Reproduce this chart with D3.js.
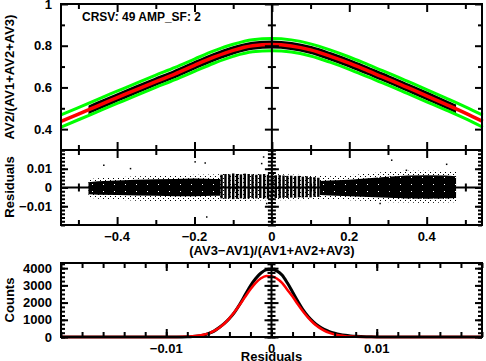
<!DOCTYPE html>
<html>
<head>
<meta charset="utf-8">
<script src="https://cdn.jsdelivr.net/npm/d3@7"></script>
<style>
body { margin: 0; background: #fff; }
text { font-family: "Liberation Sans", Arial, sans-serif; font-weight: bold; font-size: 13px; fill: #000; }
</style>
</head>
<body>
<svg id="chart" width="486" height="361"></svg>
<script>
// model curve and the green limits, top panel
var modelX = [-0.545, -0.5, -0.45, -0.4, -0.35, -0.3, -0.25, -0.2, -0.15, -0.1, -0.05, 0, 0.05, 0.1, 0.15, 0.2, 0.25, 0.3, 0.35, 0.4, 0.45, 0.5, 0.545];
var modelY = [0.437, 0.472, 0.512, 0.551, 0.590, 0.628, 0.665, 0.706, 0.745, 0.778, 0.800, 0.806, 0.799, 0.780, 0.750, 0.716, 0.678, 0.640, 0.600, 0.560, 0.519, 0.477, 0.437];
var upperY = [0.468, 0.503, 0.543, 0.582, 0.621, 0.659, 0.696, 0.736, 0.775, 0.807, 0.829, 0.835, 0.828, 0.809, 0.780, 0.746, 0.708, 0.670, 0.630, 0.590, 0.549, 0.507, 0.467];
var lowerY = [0.410, 0.445, 0.484, 0.523, 0.562, 0.600, 0.637, 0.677, 0.716, 0.749, 0.771, 0.776, 0.770, 0.751, 0.721, 0.687, 0.649, 0.611, 0.571, 0.531, 0.491, 0.450, 0.409];
var dataRange = [-0.474, 0.476];

// residuals: dense core (left and right), sparse halo, stripes in the middle
var coreLX = [-0.474, -0.45, -0.4, -0.35, -0.3, -0.25, -0.2, -0.15, -0.134];
var coreLHi = [0.0028, 0.0034, 0.0038, 0.0042, 0.0044, 0.0046, 0.0048, 0.0046, 0.0046];
var coreLLo = [-0.0036, -0.0038, -0.0040, -0.0042, -0.0044, -0.0046, -0.0046, -0.0044, -0.0044];
var coreRX = [0.124, 0.15, 0.2, 0.25, 0.3, 0.35, 0.4, 0.45, 0.476];
var coreRHi = [0.0035, 0.0038, 0.0042, 0.0050, 0.0058, 0.0064, 0.0066, 0.0064, 0.0060];
var coreRLo = [-0.0040, -0.0042, -0.0046, -0.0050, -0.0055, -0.0058, -0.0060, -0.0058, -0.0056];
var haloX = [-0.474, -0.45, -0.4, -0.35, -0.3, -0.25, -0.2, -0.15, -0.1, -0.05, 0, 0.05, 0.1, 0.15, 0.2, 0.25, 0.3, 0.35, 0.4, 0.45, 0.476];
var haloHi = [0.0045, 0.0050, 0.0055, 0.0060, 0.0062, 0.0065, 0.0068, 0.0070, 0.0075, 0.0075, 0.0072, 0.0070, 0.0065, 0.0060, 0.0065, 0.0075, 0.0085, 0.0090, 0.0090, 0.0088, 0.0085];
var haloLo = [-0.0055, -0.0060, -0.0065, -0.0070, -0.0072, -0.0072, -0.0075, -0.0075, -0.0075, -0.0070, -0.0068, -0.0068, -0.0066, -0.0062, -0.0068, -0.0072, -0.0078, -0.0080, -0.0082, -0.0080, -0.0078];
var stripeX = [-0.13, -0.12, -0.11, -0.10, -0.09, -0.08, -0.07, -0.06, -0.05, -0.04, -0.03, -0.02, -0.01, 0, 0.01, 0.02, 0.03, 0.04, 0.05, 0.06, 0.07, 0.08, 0.09, 0.10, 0.11, 0.12];
var stripeHi = [0.0068, 0.0072, 0.0070, 0.0075, 0.0072, 0.0070, 0.0074, 0.0072, 0.0070, 0.0068, 0.0070, 0.0072, 0.0068, 0.0066, 0.0065, 0.0066, 0.0064, 0.0062, 0.0063, 0.0060, 0.0062, 0.0058, 0.0060, 0.0056, 0.0055, 0.0052];
var stripeLo = [-0.0058, -0.0060, -0.0058, -0.0062, -0.0060, -0.0058, -0.0060, -0.0058, -0.0057, -0.0058, -0.0056, -0.0058, -0.0060, -0.0058, -0.0056, -0.0057, -0.0055, -0.0056, -0.0054, -0.0055, -0.0053, -0.0054, -0.0052, -0.0053, -0.0050, -0.0050];
var outX = [-0.435, -0.366, -0.199, -0.173, -0.169, -0.022, -0.027, -0.014, 0.279, 0.309, 0.347, 0.451];
var outY = [0.0120, 0.0102, 0.0138, 0.0132, -0.0156, 0.0164, 0.0129, -0.0084, -0.0084, 0.0147, 0.0093, 0.0125];

// histogram of residuals (black) and gaussian fit (red)
var histX = [-0.02, -0.0095, -0.009, -0.0085, -0.008, -0.0075, -0.007, -0.0065, -0.006, -0.0055, -0.005, -0.0045, -0.004, -0.0035, -0.003, -0.0025, -0.002, -0.0015, -0.001, -0.0005, 0, 0.0005, 0.001, 0.0015, 0.002, 0.0025, 0.003, 0.0035, 0.004, 0.0045, 0.005, 0.0055, 0.006, 0.0065, 0.007, 0.0075, 0.008, 0.0085, 0.009, 0.0095, 0.01, 0.0105, 0.011, 0.02];
var histN = [0, 0, 3, 6, 14, 30, 60, 110, 200, 330, 540, 780, 1080, 1450, 1920, 2450, 2980, 3400, 3720, 3900, 3920, 3840, 3600, 3150, 2620, 2080, 1580, 1180, 870, 620, 440, 310, 220, 150, 100, 65, 40, 25, 15, 8, 4, 2, 0, 0];
var fitX = [-0.02, -0.009, -0.0085, -0.008, -0.0075, -0.007, -0.0065, -0.006, -0.0055, -0.005, -0.0045, -0.004, -0.0035, -0.003, -0.0025, -0.002, -0.0015, -0.001, -0.0005, 0, 0.0005, 0.001, 0.0015, 0.002, 0.0025, 0.003, 0.0035, 0.004, 0.0045, 0.005, 0.0055, 0.006, 0.0065, 0.007, 0.0075, 0.008, 0.0085, 0.009, 0.02];
var fitN = [0, 5, 10, 21, 40, 72, 126, 212, 340, 522, 770, 1085, 1464, 1891, 2339, 2770, 3141, 3412, 3548, 3532, 3400, 3150, 2750, 2350, 1900, 1480, 1110, 800, 560, 370, 240, 150, 90, 50, 27, 14, 7, 3, 0];

// ticks and labels
var xMajor = [-0.4, -0.2, 0, 0.2, 0.4];
var xMinor = [-0.5, -0.3, -0.1, 0.1, 0.3, 0.5];
var xLabels = ["\u22120.4", "\u22120.2", "0", "0.2", "0.4"];
var topMajor = [0.4, 0.6, 0.8, 1];
var topMinor = [0.3, 0.5, 0.7, 0.9];
var topLabels = ["0.4", "0.6", "0.8", "1"];
var resMajor = [-0.01, 0, 0.01];
var resLabels = ["\u22120.01", "0", "0.01"];
var histXMajor = [-0.01, 0, 0.01];
var histXLabels = ["\u22120.01", "0", "0.01"];
var histYMajor = [0, 1000, 2000, 3000, 4000];
var histYLabels = ["0", "1000", "2000", "3000", "4000"];

var svg = d3.select("#chart");
var L = 61, R = 482;

var x = d3.scaleLinear().domain([-0.545, 0.543]).range([L, R]);
var yTop = d3.scaleLinear().domain([0.3, 1]).range([150, 4]);
var yRes = d3.scaleLinear().domain([-0.02, 0.02]).range([225, 150]);
var xHist = d3.scaleLinear().domain([-0.02, 0.02]).range([L, R]);
var yHist = d3.scaleLinear().domain([0, 4300]).range([337, 263]);

var defs = svg.append("defs");
// sparse dots for the halo of scattered residuals
var pat = defs.append("pattern").attr("id", "speck").attr("width", 5).attr("height", 4).attr("patternUnits", "userSpaceOnUse");
pat.append("rect").attr("x", 0).attr("y", 0).attr("width", 1).attr("height", 1).attr("fill", "#000");
pat.append("rect").attr("x", 3).attr("y", 2).attr("width", 1).attr("height", 1).attr("fill", "#000");
// nearly solid black with a rare white hole for the dense core
var pat2 = defs.append("pattern").attr("id", "dense").attr("width", 11).attr("height", 7).attr("patternUnits", "userSpaceOnUse");
pat2.append("rect").attr("width", 11).attr("height", 7).attr("fill", "#000");
pat2.append("rect").attr("x", 4).attr("y", 2).attr("width", 1).attr("height", 1).attr("fill", "#fff");
defs.append("clipPath").attr("id", "dataclip").append("rect")
    .attr("x", x(dataRange[0])).attr("y", 0)
    .attr("width", x(dataRange[1]) - x(dataRange[0])).attr("height", 160);

// draw ticks with d3.axis, no domain line; size < 0 points inward
function tickRow(axisFn, scale, values, size, tx, ty) {
    var g = svg.append("g").attr("transform", "translate(" + tx + "," + ty + ")")
        .call(axisFn(scale).tickValues(values).tickSize(size).tickFormat(""));
    g.select(".domain").remove();
    g.selectAll("line").attr("stroke", "#000").attr("stroke-width", 2);
}
function crossTicks(axisFn, scale, values, size, tx, ty) {
    tickRow(axisFn, scale, values, size, tx, ty);
    tickRow(axisFn, scale, values, -size, tx, ty);
}
function frame(x0, y0, x1, y1) {
    svg.append("rect").attr("x", x0).attr("y", y0).attr("width", x1 - x0).attr("height", y1 - y0)
        .attr("fill", "none").attr("stroke", "#000").attr("stroke-width", 2);
}

// ---- top panel ----
var line = d3.line().x(function(d){ return x(d[0]); }).y(function(d){ return yTop(d[1]); }).curve(d3.curveMonotoneX);
var model = modelX.map(function(v, i){ return [v, modelY[i]]; });

svg.append("path").datum(model).attr("d", line).attr("clip-path", "url(#dataclip)")
    .attr("fill", "none").attr("stroke", "#000").attr("stroke-width", 8);
svg.append("path").datum(modelX.map(function(v, i){ return [v, upperY[i]]; })).attr("d", line)
    .attr("fill", "none").attr("stroke", "#00ff00").attr("stroke-width", 3);
svg.append("path").datum(modelX.map(function(v, i){ return [v, lowerY[i]]; })).attr("d", line)
    .attr("fill", "none").attr("stroke", "#00ff00").attr("stroke-width", 3);
svg.append("path").datum(model).attr("d", line)
    .attr("fill", "none").attr("stroke", "#ff0000").attr("stroke-width", 3.5);

svg.append("line").attr("x1", x(0)).attr("x2", x(0)).attr("y1", 4).attr("y2", 150).attr("stroke", "#000").attr("stroke-width", 2);
tickRow(d3.axisTop, x, xMajor, 8, 0, 150);
tickRow(d3.axisTop, x, xMinor, 5, 0, 150);
tickRow(d3.axisBottom, x, xMajor, 8, 0, 4);
tickRow(d3.axisBottom, x, xMinor, 5, 0, 4);
tickRow(d3.axisRight, yTop, topMajor, 7, L, 0);
tickRow(d3.axisRight, yTop, topMinor, 4, L, 0);
tickRow(d3.axisLeft, yTop, topMajor, 7, R, 0);
tickRow(d3.axisLeft, yTop, topMinor, 4, R, 0);
crossTicks(d3.axisLeft, yTop, topMajor, 7, x(0), 0);
crossTicks(d3.axisLeft, yTop, topMinor, 4, x(0), 0);
frame(L, 4, R, 150);

svg.selectAll(".ltop").data(topMajor).enter().append("text")
    .attr("x", 52).attr("y", function(d){ return yTop(d); }).attr("dy", "0.36em")
    .attr("text-anchor", "end").text(function(d, i){ return topLabels[i]; });
svg.append("text").attr("x", 82).attr("y", 21).style("font-size", "12px").text("CRSV: 49 AMP_SF: 2");
svg.append("text").attr("transform", "translate(14,77) rotate(-90)").attr("text-anchor", "middle")
    .text("AV2/(AV1+AV2+AV3)");

// ---- residual panel ----
var area = function(xs, hi, lo) {
    return d3.area().x(function(d, i){ return x(xs[i]); })
        .y0(function(d, i){ return yRes(lo[i]); }).y1(function(d, i){ return yRes(hi[i]); })(xs);
};
svg.append("line").attr("x1", L).attr("x2", R).attr("y1", yRes(0)).attr("y2", yRes(0)).attr("stroke", "#000").attr("stroke-width", 2);
svg.append("path").attr("d", area(haloX, haloHi, haloLo)).attr("fill", "url(#speck)");
svg.append("path").attr("d", area(coreLX, coreLHi, coreLLo)).attr("fill", "url(#dense)");
svg.append("path").attr("d", area(coreRX, coreRHi, coreRLo)).attr("fill", "url(#dense)");
svg.selectAll(".stripe").data(stripeX).enter().append("rect")
    .attr("x", function(d){ return x(d) - 1.2; }).attr("width", 2.4)
    .attr("y", function(d, i){ return yRes(stripeHi[i]); })
    .attr("height", function(d, i){ return yRes(stripeLo[i]) - yRes(stripeHi[i]); })
    .attr("fill", "#000");
svg.selectAll(".out").data(outX).enter().append("rect")
    .attr("x", function(d){ return x(d) - 0.5; }).attr("y", function(d, i){ return yRes(outY[i]) - 0.5; })
    .attr("width", 1.5).attr("height", 1.5).attr("fill", "#000");

svg.append("line").attr("x1", x(0)).attr("x2", x(0)).attr("y1", 150).attr("y2", 225).attr("stroke", "#000").attr("stroke-width", 2);
var resMinor = yRes.ticks(20);
tickRow(d3.axisBottom, x, xMajor, 8, 0, 150);
tickRow(d3.axisBottom, x, xMinor, 5, 0, 150);
tickRow(d3.axisTop, x, xMajor, 8, 0, 225);
tickRow(d3.axisTop, x, xMinor, 5, 0, 225);
crossTicks(d3.axisTop, x, xMajor, 6, 0, yRes(0));
crossTicks(d3.axisTop, x, xMinor, 4, 0, yRes(0));
tickRow(d3.axisRight, yRes, resMinor, 4, L, 0);
tickRow(d3.axisRight, yRes, resMajor, 7, L, 0);
tickRow(d3.axisLeft, yRes, resMinor, 4, R, 0);
tickRow(d3.axisLeft, yRes, resMajor, 7, R, 0);
crossTicks(d3.axisLeft, yRes, resMinor, 4, x(0), 0);
crossTicks(d3.axisLeft, yRes, resMajor, 7, x(0), 0);
frame(L, 150, R, 225);

svg.selectAll(".lres").data(resMajor).enter().append("text")
    .attr("x", 52).attr("y", function(d){ return yRes(d); }).attr("dy", "0.36em")
    .attr("text-anchor", "end").text(function(d, i){ return resLabels[i]; });
svg.append("text").attr("transform", "translate(14,187) rotate(-90)").attr("text-anchor", "middle").text("Residuals");
svg.selectAll(".lx").data(xMajor).enter().append("text")
    .attr("x", function(d){ return x(d); }).attr("y", 241)
    .attr("text-anchor", "middle").text(function(d, i){ return xLabels[i]; });
svg.append("text").attr("x", x(0)).attr("y", 255).attr("text-anchor", "middle").text("(AV3\u2212AV1)/(AV1+AV2+AV3)");

// ---- histogram panel ----
var hline = d3.line().curve(d3.curveMonotoneX);
svg.append("path").attr("d", hline(histX.map(function(v, i){ return [xHist(v), yHist(histN[i])]; })))
    .attr("fill", "none").attr("stroke", "#000").attr("stroke-width", 3);
svg.append("path").attr("d", hline(fitX.map(function(v, i){ return [xHist(v), yHist(fitN[i])]; })))
    .attr("fill", "none").attr("stroke", "#ff0000").attr("stroke-width", 2.5);

svg.append("line").attr("x1", xHist(0)).attr("x2", xHist(0)).attr("y1", 263).attr("y2", 337).attr("stroke", "#000").attr("stroke-width", 2);
var hxMinor = xHist.ticks(20);
var hyMinor = d3.range(0, 4300, 250);
tickRow(d3.axisBottom, xHist, hxMinor, 5, 0, 263);
tickRow(d3.axisBottom, xHist, histXMajor, 8, 0, 263);
tickRow(d3.axisTop, xHist, hxMinor, 5, 0, 337);
tickRow(d3.axisTop, xHist, histXMajor, 8, 0, 337);
tickRow(d3.axisRight, yHist, hyMinor, 4, L, 0);
tickRow(d3.axisRight, yHist, histYMajor, 7, L, 0);
tickRow(d3.axisLeft, yHist, hyMinor, 4, R, 0);
tickRow(d3.axisLeft, yHist, histYMajor, 7, R, 0);
crossTicks(d3.axisLeft, yHist, hyMinor, 4, xHist(0), 0);
crossTicks(d3.axisLeft, yHist, histYMajor, 7, xHist(0), 0);
frame(L, 263, R, 337);

svg.selectAll(".lhy").data(histYMajor).enter().append("text")
    .attr("x", 52).attr("y", function(d){ return yHist(d); }).attr("dy", "0.36em")
    .attr("text-anchor", "end").text(function(d, i){ return histYLabels[i]; });
svg.append("text").attr("transform", "translate(14,300) rotate(-90)").attr("text-anchor", "middle").text("Counts");
svg.selectAll(".lhx").data(histXMajor).enter().append("text")
    .attr("x", function(d){ return xHist(d); }).attr("y", 353)
    .attr("text-anchor", "middle").text(function(d, i){ return histXLabels[i]; });
svg.append("text").attr("x", xHist(0)).attr("y", 361).attr("text-anchor", "middle").text("Residuals");
</script>
</body>
</html>
